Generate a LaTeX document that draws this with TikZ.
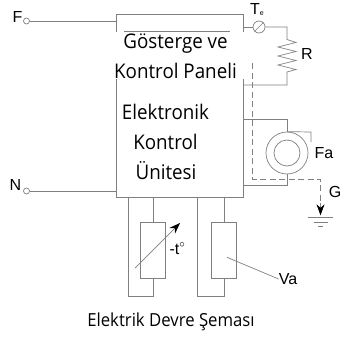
\documentclass[tikz,border=0pt]{standalone}
\usepackage{fontspec}
\setmainfont[FakeStretch=0.93]{Open Sans}
\newfontfamily\labelfont{Liberation Sans}
\usepackage{tikz}
\usetikzlibrary{arrows.meta}
\usetikzlibrary{positioning}
\definecolor{wire}{gray}{0.5}
\tikzset{>={Stealth[length=11pt, width=8pt, black]}}

\begin{document}
\begin{tikzpicture}[
	x=1pt, y=-1pt,
	wire/.style = {
		draw=wire, line width=0.7pt
	},
	thick wire/.style = {
		draw=wire, line width=1pt
	},
	ground wire/.style = {
		draw=wire, line width=0.8pt, dash pattern=on 6pt off 3.5pt
	},
	terminal/.style = {
		circle, wire, fill=white,
		inner sep=0pt, minimum size=6pt
	},
	panel/.style = {
		rectangle, thick wire, fill=white,
		inner sep=0pt, anchor=north west,
		minimum width=127.5pt, minimum height=182.5pt
	},
	part/.style = {
		rectangle, thick wire, fill=white,
		inner sep=0pt,
		minimum width=25pt, minimum height=56pt
	},
	boxtext/.style = {
		inner sep=0.5pt,
		font=\fontsize{20.2}{20.2}\selectfont
	},
	label/.style = {
		inner sep=0pt,
		font=\labelfont\fontsize{16}{16}\selectfont
	}
]
	\useasboundingbox (0, 0) rectangle (342, 337);
	% Control unit
	\node[panel] (unit) at (115.5, 14.5) {};
	\fill[white] (113, 32) rectangle (246, 78.5);
	% Mains terminals
	\node[terminal] (f) at (26.5, 21) {};
	\node[terminal] (n) at (26.5, 191) {};
	\node[label] (flabel) at (17.5, 17) {F};
	\node[label] (nlabel) at (15.5, 185) {N};
	\draw[wire] (f) -- (f -| unit.west);
	\draw[wire] (n) -- (n -| unit.west);
	% Panel divider
	\coordinate (divl) at (124, 31.5);
	\coordinate (divr) at (230, 31.5);
	\draw[wire] (divl) -- (divr);
	% Texts
	\node[boxtext] (panel1) at (175.5, 44) {Gösterge ve};
	\node[boxtext] (panel2) at (175.5, 71) {Kontrol Paneli};
	\node[boxtext] (unit1) at (165.5, 112) {Elektronik};
	\node[boxtext] (unit2) at (165.5, 142) {Kontrol};
	\node[boxtext] (unit3) at (166, 171) {Ünitesi};
	% Thermostat
	\node[terminal, minimum size=12pt] (te) at (259, 27) {};
	\node[label] (telabel) at (257, 10) {T\raisebox{-1pt}{\fontsize{7}{7}\selectfont e}};
	\draw[wire] (te.center -| unit.east) -- (te);
	\coordinate (tea) at (254.5, 31.5);
	\coordinate (teb) at (263.5, 22.5);
	\draw[wire] (tea) -- (teb);
	% Resistor
	\coordinate (rtop) at (287, 27);
	\coordinate (rbot) at (287, 85);
	\draw[wire] (te) -- (rtop) -- (287, 39.5) -- (296, 42.5)
		-- (278, 47) -- (296, 51.5) -- (278, 56) -- (296, 60.5)
		-- (278, 65) -- (296, 69.5) -- (287, 72) -- (rbot)
		-- (rbot -| unit.east);
	\node[label] (rlabel) at (307, 54) {R};
	% Fan
	\node[circle, wire, fill=white, inner sep=0pt, minimum size=42pt] (fan) at (287, 153) {};
	\node[circle, wire, inner sep=0pt, minimum size=26pt] (rotor) at (fan) {};
	\coordinate (fanin) at (287, 119);
	\coordinate (fanout) at (287, 185);
	\draw[wire] (fanin -| unit.east) -- (fanin) -- (fan.north);
	\draw[wire] (fan.south) -- (fanout) -- (fanout -| unit.east);
	\coordinate (flapa) at (311, 132);
	\coordinate (flapb) at (311, 142);
	\draw[wire] (fan.north) -- (flapa) -- (flapb);
	\node[label] (falabel) at (324, 153) {Fa};
	% Earth
	\coordinate (gtop) at (252.7, 63);
	\coordinate (gbend) at (252.7, 179);
	\coordinate (gright) at (320.5, 179);
	\node[inner sep=0pt, minimum size=0pt] (earth) at (320.5, 215.5) {};
	\draw[ground wire] (gtop) -- (gbend) -- (gright) -- (320.5, 204);
	\draw[->, wire] (320.5, 203) -- (earth);
	\draw[wire] (308, 217.5) -- (333, 217.5);
	\draw[wire] (313.5, 222) -- (327.5, 222);
	\draw[wire] (318, 226) -- (323, 226);
	\node[label] (glabel) at (335, 192) {G};
	% Temperature sensor
	\node[part] (sensor) at (153, 250) {};
	\coordinate (loopa) at (128, 296.7);
	\coordinate (loopb) at (153, 296.7);
	\draw[wire] (sensor.north) -- (sensor.north |- unit.south);
	\draw[thick wire] (loopa |- unit.south) -- (loopa) -- (loopb) -- (sensor.south);
	\coordinate (senstail) at (135, 268);
	\coordinate (senstip) at (180, 223);
	\draw[->, wire] (senstail) -- (senstip);
	\node[label] (tlabel) at (177.5, 248.5) {-t$^{\circ}$};
	% Valve
	\node[part] (valve) at (224.2, 250) {};
	\coordinate (loopc) at (197.7, 296.7);
	\coordinate (loopd) at (224.2, 296.7);
	\draw[wire] (valve.north) -- (valve.north |- unit.south);
	\draw[thick wire] (loopc |- unit.south) -- (loopc) -- (loopd) -- (valve.south);
	\coordinate (vain) at (227, 257.3);
	\node[label] (valabel) at (288, 279) {Va};
	\draw[wire] (vain) -- (valabel.west);
	% Caption
	\node[inner sep=0pt, font=\fontsize{18}{18}\selectfont] (caption) at (171, 322) {Elektrik Devre Şeması};
\end{tikzpicture}
\end{document}
